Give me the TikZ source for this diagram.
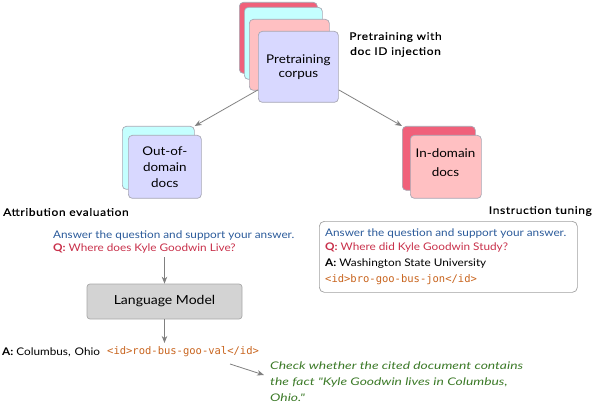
\documentclass[tikz,border=0pt]{standalone}
\usepackage{fontspec}
\setmainfont{Lato}[FakeStretch=1.12]
\newfontfamily\medfont{Lato}[FakeStretch=1.14, FakeBold=0.3, LetterSpace=6]
\newfontfamily\chkfont{Lato}[FakeStretch=1.32]
\setmonofont{DejaVu Sans Mono}
\usetikzlibrary{arrows.meta}
\definecolor{cardred}{HTML}{F0607A}
\definecolor{cardcyan}{HTML}{C4FFFF}
\definecolor{cardpink}{HTML}{FFC0C2}
\definecolor{cardlav}{HTML}{D8D8FF}
\definecolor{cardedge}{HTML}{A8A8B4}
\definecolor{qblue}{HTML}{2A5A9A}
\definecolor{qred}{HTML}{C8304A}
\definecolor{idorange}{HTML}{C8641E}
\definecolor{chkgreen}{HTML}{3C7A28}
\definecolor{arrowgray}{HTML}{808080}
\definecolor{lmgray}{HTML}{D3D3D3}
\definecolor{lmedge}{HTML}{A8A8A8}
\definecolor{boxedge}{HTML}{A0A0A0}
\begin{document}
\begin{tikzpicture}[x=1pt,y=-1pt,
  card/.style={draw=cardedge, line width=0.7pt, rounded corners=4pt, anchor=north west, inner sep=0pt},
  cardtext/.style={align=center, inner sep=0pt, font=\fontsize{12}{16}\selectfont},
  link/.style={draw=arrowgray, line width=0.8pt, -{Stealth[length=7pt,width=5.5pt]}},
  lbl/.style={inner sep=0pt, font=\medfont\fontsize{10.5}{15}\selectfont},
  txt/.style={inner sep=0pt, anchor=west, font=\fontsize{10.5}{12}\selectfont},
  idt/.style={inner sep=0pt, anchor=west, text=idorange, font=\ttfamily\fontsize{10.5}{12}\selectfont}]
\useasboundingbox (0,0) rectangle (594,406);
% pretraining stack
\node[card, fill=cardred, minimum width=78pt, minimum height=71pt] (pr1) at (239,2) {};
\node[card, fill=cardcyan, minimum width=78pt, minimum height=72pt] (pr2) at (244,7) {};
\node[card, fill=cardpink, minimum width=80pt, minimum height=71pt] (pr3) at (249,19) {};
\node[card, fill=cardlav, minimum width=80pt, minimum height=71pt] (pc) at (258,31) {};
\node[cardtext, font=\fontsize{12}{14}\selectfont] (pct) at (pc.center) {Pretraining\\corpus};
\node[lbl, align=center] (ptl) at (395.5,44.5) {Pretraining with\\doc ID injection};
% out-of-domain
\node[card, fill=cardcyan, minimum width=72pt, minimum height=63pt] (od1) at (122,126) {};
\node[card, fill=cardlav, minimum width=73pt, minimum height=63pt] (od) at (128,135) {};
\node[cardtext] (odt) at (od.center) {Out-of-\\domain\\docs};
% in-domain
\node[card, fill=cardred, minimum width=73pt, minimum height=64pt] (id1) at (402,126) {};
\node[card, fill=cardpink, minimum width=71pt, minimum height=63pt] (id) at (410,135) {};
\node[cardtext, font=\fontsize{12}{19}\selectfont] (idt) at (445.5,162.5) {In-domain\\docs};
% links
\draw[link] (pc) -- (od1.north east);
\draw[link] (pc) -- (id1.north west);
% section labels
\node[lbl, anchor=west] (ael) at (3,212) {Attribution evaluation};
\node[lbl, anchor=east] (itl) at (592,211) {Instruction tuning};
% left prompt
\node[txt, text=qblue] (lp1) at (53,236) {Answer the question and support your answer.};
\node[txt, text=qred] (lp2) at (53,249) {\textbf{Q:} Where does Kyle Goodwin Live?};
\node[draw=lmedge, fill=lmgray, line width=0.7pt, rounded corners=3pt, minimum width=155pt, minimum height=35pt, font=\fontsize{12.5}{14}\selectfont] (lm) at (164.5,301.5) {Language Model};
\coordinate (lpa) at (164.5,257);
\coordinate (ansa) at (164.5,343);
\draw[link] (lpa) -- (lm.north);
\draw[link] (lm.south) -- (ansa);
\node[txt] (ans) at (2,352) {\textbf{A:} Columbus,\hspace{1pt} Ohio};
\node[idt] (ansid) at (107,352) {<id>rod-bus-goo-val</id>};
% check
\coordinate (chk0) at (230,364);
\coordinate (chk1) at (264,375);
\draw[link] (chk0) -- (chk1);
\node[anchor=north west, align=left, text=chkgreen, inner sep=0pt, font=\chkfont\itshape\fontsize{10.5}{16}\selectfont] (chk) at (270,362) {Check whether the cited document contains\\the fact "Kyle Goodwin lives in Columbus,\\Ohio."};
% right box
\node[draw=boxedge, line width=0.7pt, rounded corners=5pt, minimum width=258pt, minimum height=71pt, anchor=north west] (rb) at (319,221) {};
\node[txt, text=qblue] (rp1) at (325,234) {Answer the question and support your answer.};
\node[txt, text=qred] (rp2) at (325,248) {\textbf{Q:} Where did Kyle Goodwin Study?};
\node[txt] (rp3) at (325,264) {\textbf{A:} Washington State University};
\node[idt] (rp4) at (325,280) {<id>bro-goo-bus-jon</id>};
\end{tikzpicture}
\end{document}
